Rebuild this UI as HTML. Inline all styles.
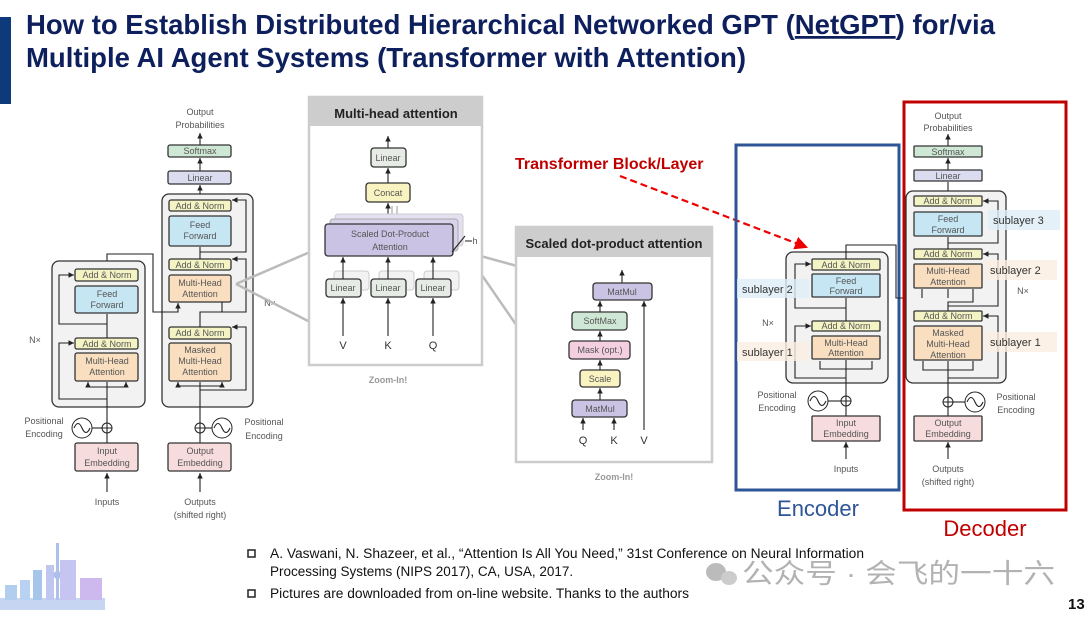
<!DOCTYPE html>
<html><head><meta charset="utf-8"><style>
html,body{margin:0;padding:0;background:#fff;}
body{width:1091px;height:615px;overflow:hidden;position:relative;font-family:"Liberation Sans",sans-serif;}
svg text{font-family:"Liberation Sans","Noto Sans CJK SC",sans-serif;}
.t{font-size:9px;fill:#555;text-anchor:middle;}
.b{stroke:#333;stroke-width:1.3;}
.l{stroke:#222;stroke-width:1.1;fill:none;}
</style></head><body>
<svg width="1091" height="615" viewBox="0 0 1091 615" xmlns="http://www.w3.org/2000/svg">
<defs>
<marker id="a" markerWidth="6" markerHeight="6" refX="5" refY="3" orient="auto"><path d="M0,0.5 L5,3 L0,5.5z" fill="#222"/></marker>
<marker id="r" markerWidth="6" markerHeight="6" refX="5" refY="3" orient="auto"><path d="M0,0 L6,3 L0,6z" fill="#e00"/></marker>
</defs>
<!-- header -->
<rect x="0" y="17" width="11" height="87" fill="#0d3a7a"/>
<text x="26" y="34" font-size="27.5" font-weight="bold" fill="#0d1f5c" textLength="969" lengthAdjust="spacingAndGlyphs">How to Establish Distributed Hierarchical Networked GPT (<tspan text-decoration="underline">NetGPT</tspan>) for/via</text>
<text x="26" y="67" font-size="27.5" font-weight="bold" fill="#0d1f5c" textLength="720" lengthAdjust="spacingAndGlyphs">Multiple AI Agent Systems (Transformer with Attention)</text>

<!-- ===== LEFT TRANSFORMER ===== -->
<g>
<text class="t" x="200" y="115">Output</text><text class="t" x="200" y="128">Probabilities</text>
<line class="l" x1="200" y1="145" x2="200" y2="133" marker-end="url(#a)"/>
<rect class="b" x="168" y="145" width="63" height="12" rx="2" fill="#cfe8d5"/><text class="t" x="200" y="154">Softmax</text>
<line class="l" x1="200" y1="171" x2="200" y2="158" marker-end="url(#a)"/>
<rect class="b" x="168" y="171" width="63" height="13" rx="2" fill="#dcdcf0"/><text class="t" x="200" y="181">Linear</text>
<line class="l" x1="200" y1="200" x2="200" y2="185" marker-end="url(#a)"/>
<rect x="162" y="194" width="91" height="213" rx="7" fill="#f2f2f2" stroke="#333" stroke-width="1.3"/>
<rect class="b" x="169" y="200" width="62" height="11" rx="2" fill="#f3f3c4"/><text class="t" x="200" y="209">Add &amp; Norm</text>
<rect class="b" x="169" y="216" width="62" height="30" rx="2" fill="#c7e6f4"/><text class="t" x="200" y="228">Feed</text><text class="t" x="200" y="239">Forward</text>
<rect class="b" x="169" y="259" width="62" height="11" rx="2" fill="#f3f3c4"/><text class="t" x="200" y="268">Add &amp; Norm</text>
<rect class="b" x="169" y="275" width="62" height="27" rx="2" fill="#f9dfc0"/><text class="t" x="200" y="286">Multi-Head</text><text class="t" x="200" y="297">Attention</text>
<rect class="b" x="169" y="327" width="62" height="12" rx="2" fill="#f3f3c4"/><text class="t" x="200" y="336">Add &amp; Norm</text>
<rect class="b" x="169" y="343" width="62" height="38" rx="2" fill="#f9dfc0"/><text class="t" x="200" y="353">Masked</text><text class="t" x="200" y="364">Multi-Head</text><text class="t" x="200" y="375">Attention</text>
<path class="l" d="M200 259 V247"/><path class="l" d="M200 327 V312 H222 V302"/>
<path class="l" d="M200 312 H246 V259 H232" marker-end="url(#a)"/>
<path class="l" d="M200 252 H246 V200 H232" marker-end="url(#a)"/>
<path class="l" d="M200 390 H246 V327 H232" marker-end="url(#a)"/>
<path class="l" d="M200 386 H178 V382" marker-end="url(#a)"/><path class="l" d="M200 386 H222 V382" marker-end="url(#a)"/>
<path class="l" d="M200 443 V382"/>
<path class="l" d="M107 269 V254 H153 V312 H178 V303" marker-end="url(#a)"/>
<text class="t" x="270" y="306">N×</text>
<rect x="52" y="261" width="93" height="146" rx="7" fill="#f2f2f2" stroke="#333" stroke-width="1.3"/>
<rect class="b" x="75" y="269" width="63" height="12" rx="2" fill="#f3f3c4"/><text class="t" x="107" y="278">Add &amp; Norm</text>
<rect class="b" x="75" y="286" width="63" height="27" rx="2" fill="#c7e6f4"/><text class="t" x="107" y="297">Feed</text><text class="t" x="107" y="308">Forward</text>
<rect class="b" x="75" y="338" width="63" height="11" rx="2" fill="#f3f3c4"/><text class="t" x="107" y="347">Add &amp; Norm</text>
<rect class="b" x="75" y="353" width="63" height="28" rx="2" fill="#f9dfc0"/><text class="t" x="107" y="364">Multi-Head</text><text class="t" x="107" y="375">Attention</text>
<path class="l" d="M107 338 V314"/><path class="l" d="M107 443 V382"/>
<path class="l" d="M107 324 H59 V275 H74" marker-end="url(#a)"/>
<path class="l" d="M107 399 H59 V343 H74" marker-end="url(#a)"/>
<path class="l" d="M107 387 H88 V382" marker-end="url(#a)"/><path class="l" d="M107 387 H126 V382" marker-end="url(#a)"/>
<text class="t" x="35" y="343">N×</text>
<circle cx="82" cy="428" r="10" fill="#fff" stroke="#222"/><path class="l" d="M74 428 q4 -9 8 0 q4 9 8 0"/>
<line class="l" x1="92" y1="428" x2="102" y2="428"/>
<circle cx="107" cy="428" r="5" fill="#fff" stroke="#222"/><path class="l" d="M102 428 H112 M107 423 V433"/>
<text class="t" x="44" y="424">Positional</text><text class="t" x="44" y="437">Encoding</text>
<rect class="b" x="75" y="443" width="63" height="28" rx="2" fill="#f6dcdc"/><text class="t" x="107" y="454">Input</text><text class="t" x="107" y="466">Embedding</text>
<line class="l" x1="107" y1="492" x2="107" y2="473" marker-end="url(#a)"/>
<text class="t" x="107" y="505">Inputs</text>
<circle cx="200" cy="428" r="5" fill="#fff" stroke="#222"/><path class="l" d="M195 428 H205 M200 423 V433"/>
<line class="l" x1="205" y1="428" x2="213" y2="428"/>
<circle cx="222" cy="428" r="10" fill="#fff" stroke="#222"/><path class="l" d="M214 428 q4 -9 8 0 q4 9 8 0"/>
<text class="t" x="264" y="425">Positional</text><text class="t" x="264" y="439">Encoding</text>
<rect class="b" x="168" y="443" width="63" height="28" rx="2" fill="#f6dcdc"/><text class="t" x="200" y="454">Output</text><text class="t" x="200" y="466">Embedding</text>
<line class="l" x1="200" y1="492" x2="200" y2="473" marker-end="url(#a)"/>
<text class="t" x="200" y="505">Outputs</text><text class="t" x="200" y="518">(shifted right)</text>
</g>
<!-- zoom lines -->
<path d="M236 284 L310 252 M236 284 L310 322" stroke="#bbb" stroke-width="2.5" fill="none"/>
<path d="M466 252 L517 266 M466 252 L517 326" stroke="#bbb" stroke-width="2.5" fill="none"/>

<!-- ===== MULTI-HEAD PANEL ===== -->
<rect x="309" y="97" width="173" height="268" fill="#fff" stroke="#ccc" stroke-width="2.5"/>
<rect x="309" y="96" width="173" height="30" fill="#cdcdcd"/>
<text x="396" y="118" font-size="13" font-weight="bold" text-anchor="middle" fill="#222">Multi-head attention</text>
<line class="l" x1="388" y1="148" x2="388" y2="136" marker-end="url(#a)"/>
<rect class="b" x="371" y="148" width="35" height="19" rx="3" fill="#e6ebe6"/><text class="t" x="388" y="161">Linear</text>
<line class="l" x1="388" y1="183" x2="388" y2="168" marker-end="url(#a)"/>
<rect class="b" x="366" y="183" width="44" height="19" rx="3" fill="#f8f3c0"/><text class="t" x="388" y="196">Concat</text>
<path d="M392 224 V206 M397 224 V206" stroke="#999" stroke-width="1"/>
<line class="l" x1="388" y1="224" x2="388" y2="203" marker-end="url(#a)"/>
<rect x="335" y="214" width="128" height="32" rx="3" fill="#e4e0f0" stroke="#ccc"/>
<rect x="330" y="219" width="128" height="32" rx="3" fill="#d8d2ea" stroke="#aaa"/>
<rect class="b" x="325" y="224" width="128" height="32" rx="3" fill="#cbc3e3"/>
<text class="t" x="390" y="237">Scaled Dot-Product</text><text class="t" x="390" y="250">Attention</text>
<path class="l" d="M452 252 L465 236 M465 241 H472"/><text class="t" x="475" y="244">h</text>
<g>
<rect x="334" y="271" width="35" height="19" rx="3" fill="#f2f2f2" stroke="#ccc"/><rect x="379" y="271" width="35" height="19" rx="3" fill="#f2f2f2" stroke="#ccc"/><rect x="424" y="271" width="35" height="19" rx="3" fill="#f2f2f2" stroke="#ccc"/>
<rect class="b" x="326" y="279" width="35" height="18" rx="3" fill="#e6ebe6"/><text class="t" x="343" y="291">Linear</text>
<rect class="b" x="371" y="279" width="35" height="18" rx="3" fill="#e6ebe6"/><text class="t" x="388" y="291">Linear</text>
<rect class="b" x="416" y="279" width="35" height="18" rx="3" fill="#e6ebe6"/><text class="t" x="433" y="291">Linear</text>
<line class="l" x1="343" y1="279" x2="343" y2="257" marker-end="url(#a)"/><line class="l" x1="388" y1="279" x2="388" y2="257" marker-end="url(#a)"/><line class="l" x1="433" y1="279" x2="433" y2="257" marker-end="url(#a)"/>
<line class="l" x1="343" y1="336" x2="343" y2="298" marker-end="url(#a)"/><line class="l" x1="388" y1="336" x2="388" y2="298" marker-end="url(#a)"/><line class="l" x1="433" y1="336" x2="433" y2="298" marker-end="url(#a)"/>
</g>
<text x="343" y="349" font-size="11" text-anchor="middle" fill="#333">V</text><text x="388" y="349" font-size="11" text-anchor="middle" fill="#333">K</text><text x="433" y="349" font-size="11" text-anchor="middle" fill="#333">Q</text>
<text x="388" y="383" font-size="9" font-weight="bold" text-anchor="middle" fill="#999">Zoom-In!</text>

<!-- ===== SCALED DOT PANEL ===== -->
<rect x="516" y="227" width="196" height="235" fill="#fff" stroke="#ccc" stroke-width="2.5"/>
<rect x="516" y="226" width="196" height="31" fill="#cdcdcd"/>
<text x="614" y="248" font-size="13" font-weight="bold" text-anchor="middle" fill="#222">Scaled dot-product attention</text>
<line class="l" x1="622" y1="283" x2="622" y2="270" marker-end="url(#a)"/>
<rect class="b" x="593" y="283" width="59" height="17" rx="3" fill="#cbc3e3"/><text class="t" x="622" y="295">MatMul</text>
<rect class="b" x="572" y="312" width="55" height="18" rx="3" fill="#cfe8d5"/><text class="t" x="600" y="324">SoftMax</text>
<rect class="b" x="569" y="341" width="61" height="18" rx="3" fill="#f3cfe0"/><text class="t" x="600" y="353">Mask (opt.)</text>
<rect class="b" x="580" y="370" width="40" height="17" rx="3" fill="#f8f3c0"/><text class="t" x="600" y="382">Scale</text>
<rect class="b" x="572" y="400" width="55" height="17" rx="3" fill="#cbc3e3"/><text class="t" x="600" y="412">MatMul</text>
<line class="l" x1="600" y1="312" x2="600" y2="301" marker-end="url(#a)"/><line class="l" x1="600" y1="341" x2="600" y2="331" marker-end="url(#a)"/><line class="l" x1="600" y1="370" x2="600" y2="360" marker-end="url(#a)"/><line class="l" x1="600" y1="400" x2="600" y2="388" marker-end="url(#a)"/>
<line class="l" x1="583" y1="430" x2="583" y2="418" marker-end="url(#a)"/><line class="l" x1="614" y1="430" x2="614" y2="418" marker-end="url(#a)"/><line class="l" x1="644" y1="430" x2="644" y2="301" marker-end="url(#a)"/>
<text x="583" y="444" font-size="11" text-anchor="middle" fill="#333">Q</text><text x="614" y="444" font-size="11" text-anchor="middle" fill="#333">K</text><text x="644" y="444" font-size="11" text-anchor="middle" fill="#333">V</text>
<text x="614" y="480" font-size="9" font-weight="bold" text-anchor="middle" fill="#999">Zoom-In!</text>

<!-- label + dashed arrow -->
<text x="515" y="169" font-size="16" font-weight="bold" fill="#c00000">Transformer Block/Layer</text>
<path d="M620 176 L806 247" stroke="#e00" stroke-width="2.2" stroke-dasharray="7,4" fill="none" marker-end="url(#r)"/>

<!-- ===== RIGHT ENCODER ===== -->
<rect x="736" y="145" width="163" height="345" fill="none" stroke="#2e5597" stroke-width="3"/>
<text x="818" y="516" font-size="22" text-anchor="middle" fill="#2e5597">Encoder</text>
<rect x="786" y="252" width="102" height="131" rx="7" fill="#f2f2f2" stroke="#333" stroke-width="1.3"/>
<rect class="b" x="812" y="259" width="68" height="11" rx="1" fill="#f3f3c4"/><text class="t" x="846" y="268">Add &amp; Norm</text>
<rect class="b" x="812" y="274" width="68" height="23" rx="1" fill="#c7e6f4"/><text class="t" x="846" y="284">Feed</text><text class="t" x="846" y="294">Forward</text>
<rect class="b" x="812" y="321" width="68" height="10" rx="1" fill="#f3f3c4"/><text class="t" x="846" y="329">Add &amp; Norm</text>
<rect class="b" x="812" y="336" width="68" height="23" rx="1" fill="#f9dfc0"/><text class="t" x="846" y="346">Multi-Head</text><text class="t" x="846" y="356">Attention</text>
<path class="l" d="M846 321 V298"/><path class="l" d="M846 416 V360"/>
<path class="l" d="M846 308 H795 V264 H811" marker-end="url(#a)"/>
<path class="l" d="M846 378 H795 V326 H811" marker-end="url(#a)"/>
<path class="l" d="M846 369 H820 V361 M846 369 H872 V361"/>
<path class="l" d="M846 259 V245 H896 V298 H922 V289"/>
<rect x="737" y="279" width="72" height="19" fill="#ddeef8" opacity="0.8"/><text x="742" y="293" font-size="11" fill="#333" font-family="DejaVu Sans">sublayer 2</text>
<rect x="737" y="342" width="72" height="19" fill="#fbeee0" opacity="0.8"/><text x="742" y="356" font-size="11" fill="#333" font-family="DejaVu Sans">sublayer 1</text>
<text class="t" x="768" y="326">N×</text>
<text class="t" x="777" y="398">Positional</text><text class="t" x="777" y="411">Encoding</text>
<circle cx="818" cy="401" r="10" fill="#fff" stroke="#222"/><path class="l" d="M810 401 q4 -9 8 0 q4 9 8 0"/>
<line class="l" x1="828" y1="401" x2="841" y2="401"/>
<circle cx="846" cy="401" r="5" fill="#fff" stroke="#222"/><path class="l" d="M841 401 H851 M846 396 V406"/>
<rect class="b" x="812" y="416" width="68" height="25" rx="1" fill="#f6dcdc"/><text class="t" x="846" y="426">Input</text><text class="t" x="846" y="437">Embedding</text>
<line class="l" x1="846" y1="459" x2="846" y2="442" marker-end="url(#a)"/>
<text class="t" x="846" y="472">Inputs</text>

<!-- ===== RIGHT DECODER ===== -->
<rect x="904" y="102" width="162" height="408" fill="none" stroke="#c00000" stroke-width="3"/>
<text x="985" y="536" font-size="22" text-anchor="middle" fill="#c00000">Decoder</text>
<text class="t" x="948" y="119">Output</text><text class="t" x="948" y="131">Probabilities</text>
<line class="l" x1="948" y1="146" x2="948" y2="134" marker-end="url(#a)"/>
<rect class="b" x="914" y="146" width="68" height="11" rx="1" fill="#cfe8d5"/><text class="t" x="948" y="155">Softmax</text>
<line class="l" x1="948" y1="170" x2="948" y2="158" marker-end="url(#a)"/>
<rect class="b" x="914" y="170" width="68" height="11" rx="1" fill="#dcdcf0"/><text class="t" x="948" y="179">Linear</text>
<line class="l" x1="948" y1="196" x2="948" y2="182"/>
<rect x="906" y="191" width="100" height="192" rx="7" fill="#f2f2f2" stroke="#333" stroke-width="1.3"/>
<rect class="b" x="914" y="196" width="68" height="10" rx="1" fill="#f3f3c4"/><text class="t" x="948" y="204">Add &amp; Norm</text>
<rect class="b" x="914" y="212" width="68" height="24" rx="1" fill="#c7e6f4"/><text class="t" x="948" y="222">Feed</text><text class="t" x="948" y="233">Forward</text>
<rect class="b" x="914" y="249" width="68" height="10" rx="1" fill="#f3f3c4"/><text class="t" x="948" y="257">Add &amp; Norm</text>
<rect class="b" x="914" y="264" width="68" height="24" rx="1" fill="#f9dfc0"/><text class="t" x="948" y="274">Multi-Head</text><text class="t" x="948" y="285">Attention</text>
<rect class="b" x="914" y="311" width="68" height="10" rx="1" fill="#f3f3c4"/><text class="t" x="948" y="319">Add &amp; Norm</text>
<rect class="b" x="914" y="326" width="68" height="34" rx="1" fill="#f9dfc0"/><text class="t" x="948" y="336">Masked</text><text class="t" x="948" y="347">Multi-Head</text><text class="t" x="948" y="358">Attention</text>
<path class="l" d="M948 249 V237"/><path class="l" d="M948 311 V302 H973 V289"/><path class="l" d="M948 416 V361"/>
<path class="l" d="M948 243 H998 V201 H983" marker-end="url(#a)"/>
<path class="l" d="M948 306 H998 V254 H983" marker-end="url(#a)"/>
<path class="l" d="M948 378 H998 V316 H983" marker-end="url(#a)"/>
<path class="l" d="M948 370 H923 V361 M948 370 H973 V361"/>
<path class="l" d="M922 298 V289 M948 298 V289"/>
<rect x="988" y="210" width="72" height="20" fill="#ddeef8" opacity="0.8"/><text x="993" y="224" font-size="11" fill="#333" font-family="DejaVu Sans">sublayer 3</text>
<rect x="985" y="260" width="72" height="20" fill="#fbeee0" opacity="0.8"/><text x="990" y="274" font-size="11" fill="#333" font-family="DejaVu Sans">sublayer 2</text>
<rect x="985" y="332" width="72" height="20" fill="#fbeee0" opacity="0.8"/><text x="990" y="346" font-size="11" fill="#333" font-family="DejaVu Sans">sublayer 1</text>
<text class="t" x="1023" y="294">N×</text>
<circle cx="948" cy="402" r="5" fill="#fff" stroke="#222"/><path class="l" d="M943 402 H953 M948 397 V407"/>
<line class="l" x1="953" y1="402" x2="965" y2="402"/>
<circle cx="975" cy="402" r="10" fill="#fff" stroke="#222"/><path class="l" d="M967 402 q4 -9 8 0 q4 9 8 0"/>
<text class="t" x="1016" y="400">Positional</text><text class="t" x="1016" y="413">Encoding</text>
<rect class="b" x="914" y="416" width="68" height="25" rx="1" fill="#f6dcdc"/><text class="t" x="948" y="426">Output</text><text class="t" x="948" y="437">Embedding</text>
<line class="l" x1="948" y1="459" x2="948" y2="442" marker-end="url(#a)"/>
<text class="t" x="948" y="472">Outputs</text><text class="t" x="948" y="485">(shifted right)</text>

<!-- footer skyline -->
<g opacity="0.8">
<rect x="0" y="598" width="105" height="12" fill="#b8cdf0"/>
<rect x="5" y="585" width="12" height="15" fill="#9fc3ea"/><rect x="20" y="580" width="10" height="20" fill="#a9c8ee"/>
<rect x="33" y="570" width="9" height="30" fill="#8fb9e6"/><rect x="46" y="565" width="8" height="35" fill="#b0b8ec"/>
<rect x="56" y="543" width="3" height="57" fill="#9ab0e8"/><circle cx="57.5" cy="575" r="4" fill="#9ab0e8"/>
<rect x="60" y="560" width="16" height="40" fill="#b8b7ee"/><rect x="80" y="578" width="22" height="22" fill="#c2a8ea"/>
</g>
<rect x="248" y="550" width="7" height="7" fill="none" stroke="#222" stroke-width="1.5"/>
<text x="270" y="558" font-size="13.5" fill="#111" textLength="594" lengthAdjust="spacingAndGlyphs">A. Vaswani, N. Shazeer, et al., “Attention Is All You Need,” 31st Conference on Neural Information</text>
<text x="270" y="576" font-size="13.5" fill="#111">Processing Systems (NIPS 2017), CA, USA, 2017.</text>
<rect x="248" y="590" width="7" height="7" fill="none" stroke="#222" stroke-width="1.5"/>
<text x="270" y="598" font-size="13.5" fill="#111" textLength="419" lengthAdjust="spacingAndGlyphs">Pictures are downloaded from on-line website. Thanks to the authors</text>
<ellipse cx="716" cy="572" rx="10" ry="9" fill="#bbb"/><ellipse cx="729" cy="578" rx="8" ry="7" fill="#ccc"/>
<text x="742" y="583" font-size="27" fill="#aaa" opacity="0.9" textLength="313" lengthAdjust="spacingAndGlyphs">公众号 · 会飞的一十六</text>
<text x="1068" y="609" font-size="15" font-weight="bold" fill="#111">13</text>
</svg>
</body></html>
